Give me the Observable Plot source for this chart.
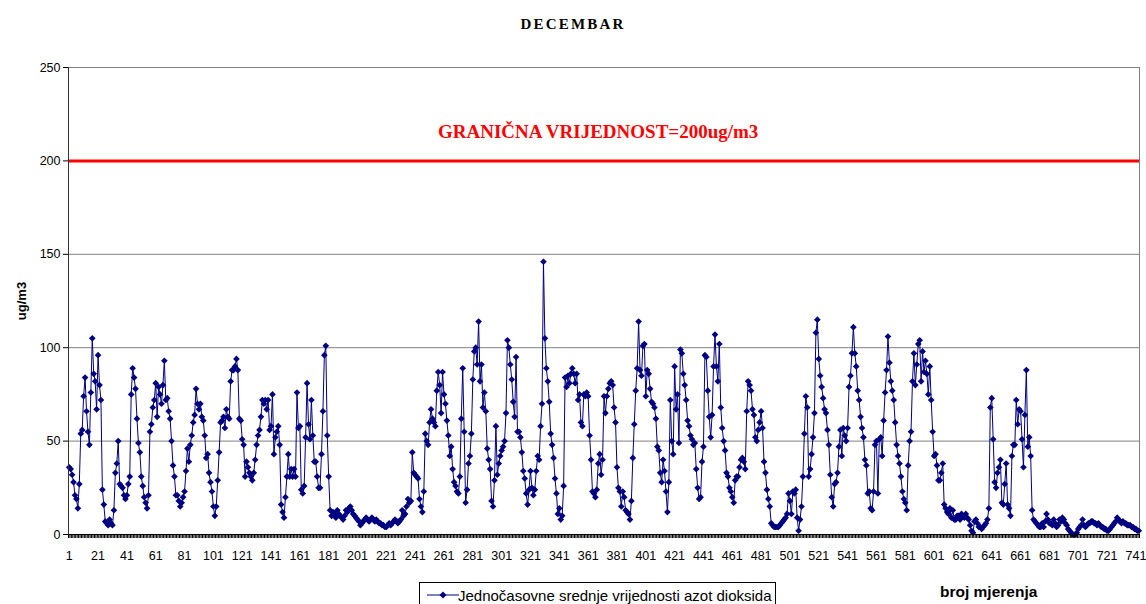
<!DOCTYPE html>
<html><head><meta charset="utf-8">
<script src="https://cdn.jsdelivr.net/npm/d3@7"></script>
<script src="https://cdn.jsdelivr.net/npm/@observablehq/plot@0.6"></script>
<style>
html,body{margin:0;padding:0;background:#fff;}
#wrap{position:relative;width:1146px;height:604px;overflow:hidden;background:#fff;}
#wrap > svg{position:absolute;left:0;top:0;}
.t{position:absolute;white-space:nowrap;line-height:1;}
</style></head><body><div id="wrap"></div>
<script>
const title = "DECEMBAR";
const limitValue = 200;
const limitLabel = "GRANIČNA VRIJEDNOST=200ug/m3";
const yLabel = "ug/m3";
const xLabel = "broj mjerenja";
const seriesName = "Jednočasovne srednje vrijednosti azot dioksida";
const yTicks = [0, 50, 100, 150, 200, 250];
const xTickLabels = d3.range(1, 745, 20);

// hourly NO2 values (hours 1..744)
const seg1 = [36,35,32,28,21,19,14,27,54,56, 74,84,66,55,48,76,105,86,82,67, 96,80,72,24,16,7,6,5,8,6, 5,13,33,38,50,27,26,25,21,19, 21,27,31,75,89,84,78,62,49,44, 31,26,20,17,14,21,55,59,68,72, 81,63,79,75,70,80,93,72,73,66, 62,50,37,31,21];
const seg2 = [21,18,15,17,20,23,34,46,39,48, 53,60,64,78,70,67,70,63,61,53, 41,43,33,28,23,15,10,15,29,44, 60,61,63,57,67,63,62,82,88,88, 90,94,88,62,61,51,48,31,39,36, 33,31,29,33,40,48,53,56,63,72, 70,72,67,72,56,58,75,43,52,55, 58,48,16,12,9];
const seg3 = [20,31,43,31,35,31,35,31,76,57, 58,24,22,26,52,81,59,51,72,53, 39,39,31,25,25,43,66,96,101,53, 31,13,10,12,11,9,13,11,10,9, 8,10,13,12,14,15,13,11,10,9, 8,7,5,6,7,8,9,8,7,8, 9,8,7,8,7,6,6,5,5,4, 4,5,6,5,6,7,8,7];
const seg4 = [6,7,8,13,10,11,15,19,17,18, 44,33,32,31,30,19,15,12,23,54, 50,48,60,67,62,60,58,77,87,80, 65,87,75,70,61,53,42,47,35,28, 26,23,22,31,62,89,55,17,24,38, 42,54,83,98,100,91,114,82,91,68, 76,66,46,40,35,18,15,29,58,32, 38,42,45,47,50,65];
const seg5 = [104,100,91,83,71,63,95,55,55,52, 44,34,30,22,16,24,34,25,21,24, 34,42,40,58,70,146,105,89,82,71, 54,48,41,30,22,11,14,8,10,26, 84,79,85,81,86,89,86,81,86,72, 75,60,58,75,74,76,74,53,40,23, 22,20,24,38,43,32,40,74,65,74, 78,81,82,80,68,60];
const seg6 = [36,25,23,15,23,20,13,12,11,8, 18,41,59,77,89,114,88,85,101,102, 74,88,86,78,71,70,68,62,47,45, 33,28,40,34,23,12,28,72,50,43, 90,67,75,49,99,97,86,80,72,61, 58,53,51,48,49,35,25,19,20,39, 47,96,95,77,63,52,64,90,107,90, 82,102,68,57,50,45];
const seg7 = [33,31,25,23,20,17,29,31,31,36, 40,41,39,35,66,82,80,77,67,64, 52,50,56,60,66,57,39,33,24,19, 15,6,5,4,4,4,4,5,6,7, 8,9,11,22,18,11,23,22,24,9, 2,8,15,31,54,74,68,31,35,43, 52,65,108,115,94,85,79,73,67,65, 56,48,32,20,15,27];
const seg8 = [28,33,47,56,42,57,53,50,57,79, 85,97,111,97,90,77,72,63,57,52, 40,37,22,23,14,13,23,48,50,22, 51,52,42,61,76,88,106,92,82,77, 72,60,48,42,38,31,23,19,17,13, 37,50,55,82,97,80,91,102,104,82, 98,87,93,86,75,90,72,55,42,43, 37,29,29,33,38,16];
const seg9 = [14,12,11,14,9,13,8,8,10,10, 8,11,10,9,11,9,8,5,2,1, 7,8,6,4,4,3,4,5,6,8, 14,68,73,51,28,25,33,36,40,17, 16,27,38,16,14,10,42,48,48,72, 59,67,66,51,36,64,88,47,52,42, 13,8,7,6,5,4,4,6,4,7, 11,8,6,6,5];
const seg10 = [8,6,4,5,8,7,9,8,6,5, 3,2,1,0,0,0,1,3,4,5, 8,5,4,5,6,6,7,7,6,6, 5,6,5,4,4,3,3,2,2,3, 4,5,6,7,9,8,7,6,7,6, 6,5,5,5,4,4,3,3,2,2];

const values = [].concat(seg1, seg2, seg3, seg4, seg5, seg6, seg7, seg8, seg9, seg10);
const data = values.map((v, k) => ({hour: k + 1, no2: v}));
const n = values.length;
const navy = "#000080";

const chart = Plot.plot({
  width: 1146, height: 604,
  marginTop: 67, marginBottom: 70, marginLeft: 68, marginRight: 7,
  style: {fontFamily: "'Liberation Sans', Arial, sans-serif", fontSize: "12.5px", background: "white", color: "black", overflow: "visible"},
  x: {domain: [0.5, n + 0.5], label: null},
  y: {domain: [0, 250], label: null},
  marks: [
    Plot.ruleY(yTicks.filter(d => d > 0), {stroke: "#808080", strokeWidth: 1}),
    Plot.ruleX([n + 0.5], {stroke: "#808080"}),
    Plot.ruleY([limitValue], {stroke: "#ff0000", strokeWidth: 3}),
    Plot.line(data, {x: "hour", y: "no2", stroke: navy, strokeWidth: 1}),
    Plot.dot(data, {x: "hour", y: "no2", symbol: "diamond2", r: 3, fill: navy}),
    Plot.ruleX([0.5], {stroke: "#333"}),
    Plot.ruleY([0], {stroke: "black"}),
    Plot.axisY(yTicks, {tickSize: 5, tickPadding: 3, label: null}),
    Plot.axisX(d3.range(0.5, n + 1, 1), {tickSize: 4, tickFormat: () => "", label: null, stroke: "black"}),
    Plot.axisX(xTickLabels, {tickSize: 0, tickPadding: 17, label: null})
  ]
});
const wrap = document.getElementById("wrap");
wrap.appendChild(chart);

function addText(txt, css) {
  const d = document.createElement("div");
  d.className = "t";
  d.textContent = txt;
  Object.assign(d.style, css);
  wrap.appendChild(d);
  return d;
}
addText(title, {left: "573px", top: "16px", transform: "translateX(-50%)", font: "bold 15px 'Liberation Serif', 'Times New Roman', serif", letterSpacing: "2.2px"});
addText(limitLabel, {left: "438px", top: "121px", font: "bold 19px 'Liberation Serif', 'Times New Roman', serif", color: "#ff0000"});
addText(yLabel, {left: "21px", top: "301px", transform: "translate(-50%,-50%) rotate(-90deg)", font: "bold 13px 'Liberation Sans', Arial, sans-serif"});
addText(xLabel, {left: "940px", top: "583px", font: "bold 15.5px 'Liberation Sans', Arial, sans-serif"});

// legend
const lg = document.createElement("div");
Object.assign(lg.style, {position: "absolute", left: "419px", top: "582px", width: "357px", height: "30px", border: "1px solid #000", background: "#fff", boxSizing: "border-box"});
const ns = "http://www.w3.org/2000/svg";
const sw = document.createElementNS(ns, "svg");
sw.setAttribute("width", "38"); sw.setAttribute("height", "22");
Object.assign(sw.style, {position: "absolute", left: "2px", top: "1px"});
const ln = document.createElementNS(ns, "line");
ln.setAttribute("x1", "5"); ln.setAttribute("x2", "37"); ln.setAttribute("y1", "11"); ln.setAttribute("y2", "11");
ln.setAttribute("stroke", navy); ln.setAttribute("stroke-width", "1");
const dm = document.createElementNS(ns, "path");
dm.setAttribute("d", "M21,7.5L24.5,11L21,14.5L17.5,11Z");
dm.setAttribute("fill", navy);
sw.appendChild(ln); sw.appendChild(dm);
lg.appendChild(sw);
const lt = document.createElement("div");
lt.className = "t";
lt.textContent = seriesName;
Object.assign(lt.style, {left: "38px", top: "4px", font: "15px 'Liberation Sans', Arial, sans-serif"});
lg.appendChild(lt);
wrap.appendChild(lg);
</script>
</body></html>
